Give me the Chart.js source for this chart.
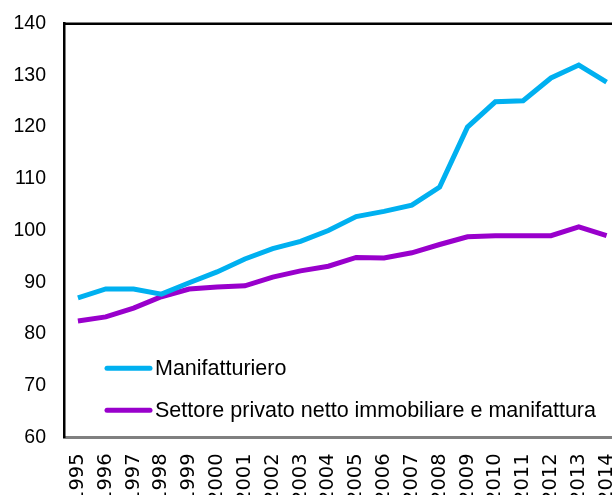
<!DOCTYPE html>
<html>
<head>
<meta charset="utf-8">
<script src="https://cdn.jsdelivr.net/npm/chart.js@4"></script>
<style>
    html, body { margin: 0; padding: 0; overflow: hidden; background: #fff; }
    #wrap { width: 646px; height: 525px; margin-top: -6px; }
</style>
</head>
<body>
<div id="wrap"><canvas id="myLineChart"></canvas></div>
<script>
// dati
var years = ["1995", "1996", "1997", "1998", "1999", "2000", "2001", "2002", "2003", "2004",
    "2005", "2006", "2007", "2008", "2009", "2010", "2011", "2012", "2013", "2014"];
var manifatturiero = [87.0, 88.7, 88.7, 87.7, 89.9, 92.0, 94.5, 96.5, 97.9, 100.0,
    102.7, 103.7, 104.9, 108.4, 120.0, 124.9, 125.1, 129.5, 132.0, 128.7];
var settorePrivato = [82.5, 83.3, 85.0, 87.2, 88.7, 89.1, 89.3, 91.0, 92.2, 93.1,
    94.8, 94.7, 95.7, 97.3, 98.8, 99.0, 99.0, 99.0, 100.7, 99.0];
var yTicks = [60, 70, 80, 90, 100, 110, 120, 130, 140];

// bordo superiore + legenda dentro il grafico
var framePlugin = {
    id: 'frame',
    afterDraw: function (chart) {
        var ctx = chart.ctx;
        var a = chart.chartArea;
        ctx.save();
        ctx.strokeStyle = '#000';
        ctx.lineWidth = 2.5;
        ctx.beginPath();
        ctx.moveTo(a.left - 1, a.top);
        ctx.lineTo(a.right, a.top);
        ctx.stroke();

        ctx.font = '21.5px "Liberation Sans", Arial, sans-serif';
        ctx.textBaseline = 'middle';
        ctx.fillStyle = '#000';
        chart.data.datasets.forEach(function (ds, i) {
            var y = a.bottom - 69 + i * 42;
            ctx.strokeStyle = ds.borderColor;
            ctx.lineWidth = 5;
            ctx.lineCap = 'round';
            ctx.beginPath();
            ctx.moveTo(a.left + 43, y);
            ctx.lineTo(a.left + 86, y);
            ctx.stroke();
            ctx.fillText(ds.label, a.left + 91, y + 1);
        });
        ctx.restore();
    }
};

var lineStatistics = {
    type: 'line',
    data: {
        labels: years,
        datasets: [
            {
                label: 'Manifatturiero',
                data: manifatturiero,
                borderColor: '#00B0F0',
                backgroundColor: '#00B0F0',
                borderWidth: 5,
                pointRadius: 0,
                tension: 0
            },
            {
                label: 'Settore privato netto immobiliare e manifattura',
                data: settorePrivato,
                borderColor: '#9900CC',
                backgroundColor: '#9900CC',
                borderWidth: 5,
                pointRadius: 0,
                tension: 0
            }
        ]
    },
    options: {
        responsive: true,
        maintainAspectRatio: false,
        animation: false,
        layout: { padding: { left: 13, top: 2, right: 0, bottom: 0 } },
        plugins: {
            legend: { display: false },
            tooltip: { enabled: false }
        },
        scales: {
            x: {
                offset: true,
                grid: { display: false, drawTicks: false },
                border: { display: true, color: '#808080', width: 3 },
                ticks: {
                    color: '#000',
                    minRotation: 90,
                    maxRotation: 90,
                    autoSkip: false,
                    padding: 16,
                    font: { family: '"DejaVu Sans", sans-serif', size: 19.5 }
                }
            },
            y: {
                min: 60,
                max: 140,
                afterBuildTicks: function (axis) {
                    axis.ticks = yTicks.map(function (v) { return { value: v }; });
                },
                afterFit: function (axis) {
                    axis.width = 51;
                },
                grid: { display: false, drawTicks: false },
                border: { display: true, color: '#000', width: 2.5 },
                ticks: {
                    color: '#000',
                    padding: 18,
                    font: { family: '"Liberation Sans", Arial, sans-serif', size: 19.5 }
                }
            }
        }
    },
    plugins: [framePlugin]
};

window.addEventListener('DOMContentLoaded', event => {
    new Chart(document.getElementById('myLineChart'), lineStatistics);
});
</script>
</body>
</html>
